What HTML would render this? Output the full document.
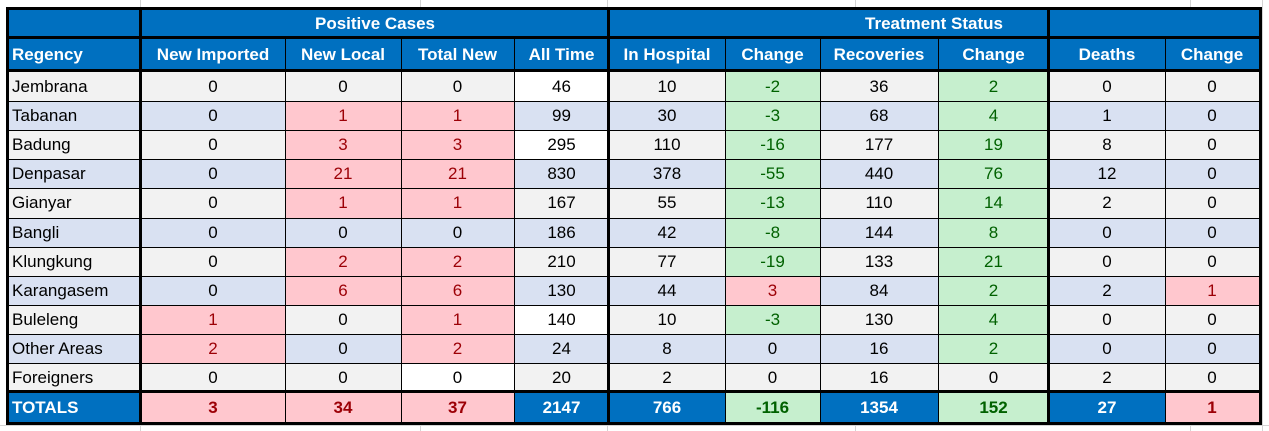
<!DOCTYPE html>
<html><head><meta charset="utf-8"><style>
body{margin:0;width:1269px;height:431px;background:#fff;position:relative;overflow:hidden;font-family:"Liberation Sans",sans-serif}
.c{position:absolute;box-sizing:border-box;display:flex;align-items:center;justify-content:center;font-size:17px;color:#000;white-space:nowrap}
.l{position:absolute;background:#000}
.g{position:absolute;background:#d4d4d4}
</style></head><body>
<script>
const regions=["Jembrana","Tabanan","Badung","Denpasar","Gianyar","Bangli","Klungkung","Karangasem","Buleleng","Other Areas","Foreigners"];
const newImported=[0,0,0,0,0,0,0,0,1,2,0];
const newLocal=[0,1,3,21,1,0,2,6,0,0,0];
const totalNew=[0,1,3,21,1,0,2,6,1,2,0];
const allTime=[46,99,295,830,167,186,210,130,140,24,20];
const inHospital=[10,30,110,378,55,42,77,44,10,8,2];
const hospChange=[-2,-3,-16,-55,-13,-8,-19,3,-3,0,0];
const recoveries=[36,68,177,440,110,144,133,84,130,16,16];
const recChange=[2,4,19,76,14,8,21,2,4,2,0];
const deaths=[0,1,8,12,2,0,0,2,0,0,2];
const deathChange=[0,0,0,0,0,0,0,1,0,0,0];
const totals=["TOTALS",3,34,37,2147,766,-116,1354,152,27,1];
const headers=["Regency","New Imported","New Local","Total New","All Time","In Hospital","Change","Recoveries","Change","Deaths","Change"];
const whiteAllTime=[0,2,8];

const X=[9,141,285,401,514,609,725,820,938,1049,1165,1259];
const Y0=72,RH=29.1;
const B=document.body;
function cell(x1,y1,x2,y2,txt,bg,col,bold,left,name){
  const d=document.createElement('div');d.className='c';
  
  
  d.style.left=x1+'px';d.style.top=y1+'px';d.style.width=(x2-x1)+'px';d.style.height=(y2-y1)+'px';
  d.style.background=bg;d.style.color=col;if(bold)d.style.fontWeight='bold';
  if(left){d.style.justifyContent='flex-start';d.style.paddingLeft='3px';}
  d.textContent=txt;B.appendChild(d);
}
function line(x,y,w,h,cls){const d=document.createElement('div');d.className=cls||'l';


d.style.left=x+'px';d.style.top=y+'px';d.style.width=w+'px';d.style.height=h+'px';B.appendChild(d);}
// faint spreadsheet grid
[140,420,607,855,1190].forEach(x=>line(x,0,1,431,'g'));
line(0,425,1269,1,'g');line(1262,0,1,431,'g');
const BLUE='#0070c0',PINK='#ffc7ce',PT='#9c0006',GREEN='#c6efce',GT='#006100';
// header
cell(X[0],10,X[1],38,'',BLUE,'#fff',true,false,'header-blank');
cell(X[1],10,X[5],38,'Positive Cases',BLUE,'#fff',true,false,'group-header-positive-cases');
cell(X[5],10,X[11],38,'Treatment Status',BLUE,'#fff',true,false,'group-header-treatment-status');
headers.forEach((h,i)=>cell(X[i],39,X[i+1],70,h,BLUE,'#fff',true,i==0,'column-header'));
const cols=[newImported,newLocal,totalNew,allTime,inHospital,hospChange,recoveries,recChange,deaths,deathChange];
regions.forEach((r,ri)=>{
  const y1=Math.round(Y0+ri*RH),y2=Math.round(Y0+(ri+1)*RH);
  const base=ri%2?'#d9e1f2':'#f2f2f2';
  cell(X[0],y1,X[1],y2,r,base,'#000',false,true,'region-name');
  cols.forEach((arr,ci)=>{
    const v=arr[ri];let bg=base,col='#000';
    if((ci<=2||ci==9)&&v>0){bg=PINK;col=PT;}
    if(ci==5){if(v<0){bg=GREEN;col=GT;}else if(v>0){bg=PINK;col=PT;}}
    if(ci==7&&v>0){bg=GREEN;col=GT;}
    if(ci==3&&whiteAllTime.includes(ri))bg='#fff';
    if(ci==2&&ri==10)bg='#fff';
    cell(X[ci+1],y1,X[ci+2],y2,String(v),bg,col,false,false,'cell-value');
  });
});
const tb=[BLUE,PINK,PINK,PINK,BLUE,BLUE,GREEN,BLUE,GREEN,BLUE,PINK];
const tc=['#fff',PT,PT,PT,'#fff','#fff',GT,'#fff',GT,'#fff',PT];
totals.forEach((v,i)=>cell(X[i],393,X[i+1],422,String(v),tb[i],tc[i],true,i==0,'totals-cell'));
// thin lines
for(let i=1;i<11;i++)line(X[i],39,1,353);
line(X[1],10,1,28);
for(let i=1;i<11;i++){const y=Math.round(Y0+i*RH);line(9,y,1250,1);}
for(let i=1;i<11;i++)line(X[i],393,1,29);
// thick lines
line(6,7,1256,3);line(6,422,1256,3);line(6,7,3,418);line(1259,7,3,418);
line(9,36,1250,3);line(9,69,1250,3);line(9,390,1250,3);
[139,607,1047].forEach(x=>line(x,7,3,418));
</script>
</body></html>
